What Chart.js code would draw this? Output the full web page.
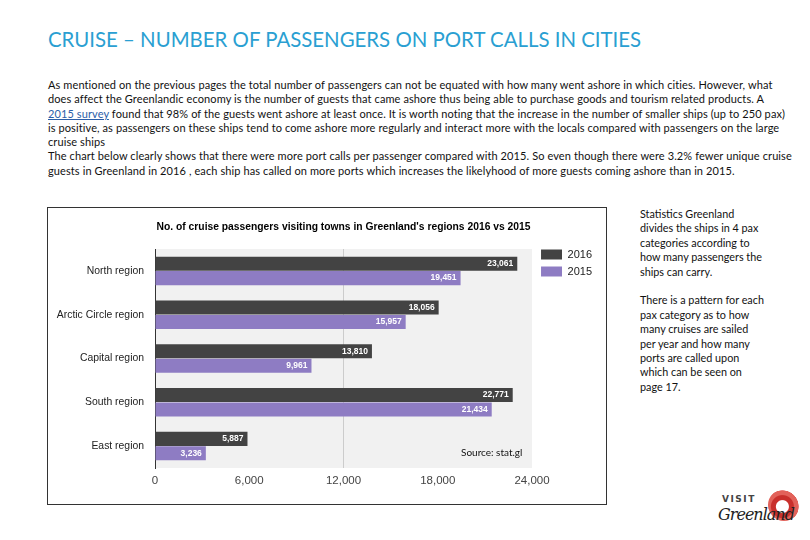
<!DOCTYPE html>
<html>
<head>
<meta charset="utf-8">
<title>Cruise passengers on port calls</title>
<script src="https://cdn.jsdelivr.net/npm/chart.js@4.4.1/dist/chart.umd.min.js"></script>
<style>
  body { margin: 0; width: 810px; height: 540px; background: #fff; position: relative; overflow: hidden; font-family: Lato, "Open Sans", sans-serif; color: #111; }
  #pageTitle { position: absolute; left: 48px; top: 27px; font-size: 20.4px; font-weight: 400; color: #2a9fd2; white-space: nowrap; }
  #intro { position: absolute; left: 48px; top: 78px; font-size: 11px; letter-spacing: 0.1px; line-height: 14.3px; white-space: nowrap; }
  #intro a { color: #2b5ea8; text-decoration: underline; }
  #chartBox { position: absolute; left: 47px; top: 207px; width: 558px; height: 296px; border: 1px solid #333; }
  #side { position: absolute; left: 640px; top: 207px; font-size: 10.8px; line-height: 14.4px; white-space: nowrap; }
  #source { position: absolute; left: 461px; top: 446px; font-size: 10px; white-space: nowrap; }
  #logo { position: absolute; left: 716px; top: 486px; width: 90px; height: 50px; }
  #logo .ring { position: absolute; left: 52px; top: 3px; width: 32px; height: 32px; border-radius: 50%;
    background: radial-gradient(circle at 45% 55%, #fff 0 6px, #c9302c 7px 11px, #e2625a 12px 16px, transparent 16.5px); }
  #logo .visit { position: absolute; left: 6px; top: 8px; font: bold 9px "DejaVu Sans", sans-serif; letter-spacing: 1.5px; color: #444; }
  #logo .green { position: absolute; left: 2px; top: 19px; font: italic 16px "DejaVu Serif", serif; color: #222; letter-spacing: -1px; }
</style>
</head>
<body>
<div id="pageTitle">CRUISE – NUMBER OF PASSENGERS ON PORT CALLS IN CITIES</div>
<div id="intro">
As mentioned on the previous pages the total number of passengers can not be equated with how many went ashore in which cities. However, what<br>
does affect the Greenlandic economy is the number of guests that came ashore thus being able to purchase goods and tourism related products. A<br>
<a>2015 survey</a> found that 98% of the guests went ashore at least once. It is worth noting that the increase in the number of smaller ships (up to 250 pax)<br>
is positive, as passengers on these ships tend to come ashore more regularly and interact more with the locals compared with passengers on the large<br>
cruise ships<br>
The chart below clearly shows that there were more port calls per passenger compared with 2015. So even though there were 3.2% fewer unique cruise<br>
guests in Greenland in 2016 , each ship has called on more ports which increases the likelyhood of more guests coming ashore than in 2015.
</div>

<div id="chartBox"><canvas id="cruiseChart"></canvas></div>
<div id="source">Source: stat.gl</div>

<div id="side">
Statistics Greenland<br>
divides the ships in 4 pax<br>
categories according to<br>
how many passengers the<br>
ships can carry.<br>
<br>
There is a pattern for each<br>
pax category as to how<br>
many cruises are sailed<br>
per year and how many<br>
ports are called upon<br>
which can be seen on<br>
page 17.
</div>

<div id="logo"><div class="ring"></div><div class="visit">VISIT</div><div class="green">Greenland</div></div>

<script>
"use strict";

// data
const regions = ["North region", "Arctic Circle region", "Capital region", "South region", "East region"];
const passengers2016 = [23061, 18056, 13810, 22771, 5887];
const passengers2015 = [19451, 15957, 9961, 21434, 3236];
const xTicks = [0, 6000, 12000, 18000, 24000];
const chartTitle = "No. of cruise passengers visiting towns in Greenland's regions 2016 vs 2015";

let fmt = v => v.toLocaleString("en-US");

// grey plot background + title above the plot
let plotBackground = {
  id: "plotBackground",
  afterLayout(chart) {
    // nudge legend to sit level with the top of the plot
    chart.legend.left += 3;
    chart.legend.top -= 6;
  },
  beforeDraw(chart) {
    let {ctx, chartArea} = chart;
    ctx.save();
    ctx.fillStyle = "#f1f1f1";
    ctx.fillRect(chartArea.left, chartArea.top, chartArea.width, chartArea.height);
    ctx.fillStyle = "#000";
    ctx.font = "bold 10.3px 'Liberation Sans', Arial, sans-serif";
    ctx.textAlign = "center";
    ctx.textBaseline = "middle";
    ctx.fillText(chartTitle, (chartArea.left + chartArea.right) / 2, 19);
    ctx.restore();
  }
};

// white value labels at the end of each bar
let barValues = {
  id: "barValues",
  afterDatasetsDraw(chart) {
    let ctx = chart.ctx;
    ctx.save();
    ctx.fillStyle = "#fff";
    ctx.font = "bold 8.5px 'Liberation Sans', Arial, sans-serif";
    ctx.textAlign = "right";
    ctx.textBaseline = "middle";
    chart.data.datasets.forEach((ds, i) => {
      chart.getDatasetMeta(i).data.forEach((bar, j) => {
        ctx.fillText(fmt(ds.data[j]), bar.x - 4, bar.y);
      });
    });
    ctx.restore();
  }
};

let chart = new Chart(document.querySelector("#cruiseChart"), {
  type: "bar",
  data: {
    labels: regions,
    datasets: [{
      label: "2016",
      data: passengers2016,
      backgroundColor: "#434343"
    }, {
      label: "2015",
      data: passengers2015,
      backgroundColor: "#8e7cc3"
    }]
  },
  options: {
    indexAxis: "y",
    responsive: true,
    maintainAspectRatio: false,
    animation: false,
    categoryPercentage: 0.66,
    barPercentage: 0.97,
    layout: { padding: { top: 41, left: 0, right: 7, bottom: 0 } },
    plugins: {
      title: { display: false },
      tooltip: { enabled: false },
      legend: {
        position: "right",
        align: "start",
        labels: {
          boxWidth: 21,
          boxHeight: 10,
          padding: 6,
          color: "#222",
          font: { family: "'Liberation Sans', Arial, sans-serif", size: 11 }
        }
      }
    },
    scales: {
      x: {
        min: 0,
        max: 24000,
        afterBuildTicks: s => { s.ticks = xTicks.map(v => ({ value: v })); },
        afterFit: s => { s.height = 36; },
        grid: {
          drawTicks: false,
          color: c => c.tick && c.tick.value === 12000 ? "#cccccc" : "rgba(0,0,0,0)"
        },
        border: { display: false },
        ticks: {
          padding: 6,
          color: "#444",
          font: { family: "'Liberation Sans', Arial, sans-serif", size: 11.5 },
          callback: v => fmt(v)
        }
      },
      y: {
        afterFit: s => { s.width = 107; },
        grid: { display: false, drawTicks: false },
        border: { display: true, color: "#333", width: 1 },
        ticks: {
          padding: 11,
          color: "#222",
          font: { family: "'Liberation Sans', Arial, sans-serif", size: 10.4 }
        }
      }
    }
  },
  plugins: [plotBackground, barValues]
});
</script>
</body>
</html>
